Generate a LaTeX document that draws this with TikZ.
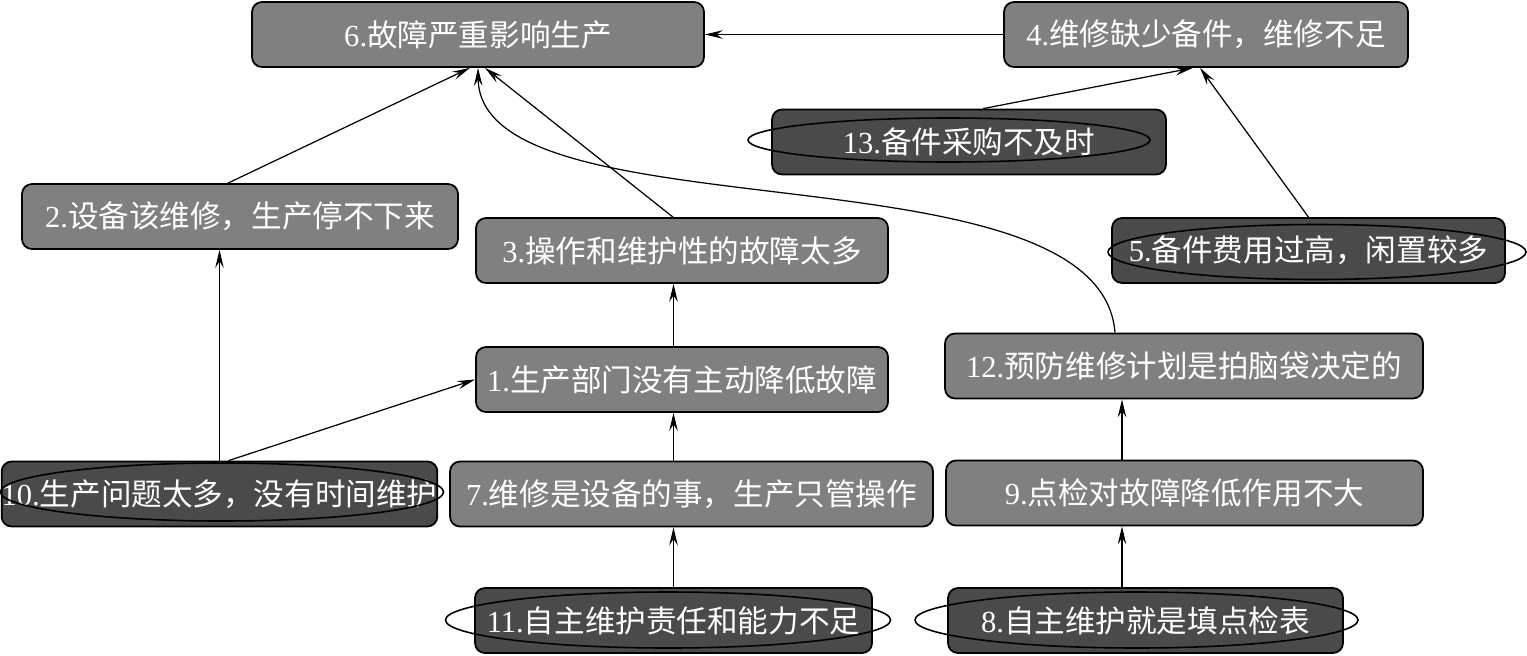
\documentclass[tikz,border=0pt]{standalone}
\usepackage{fontspec}
\setmainfont{Liberation Serif}
\newfontfamily\cjk{Noto Sans CJK SC}
\usetikzlibrary{arrows.meta}
\definecolor{boxgray}{RGB}{128,128,128}
\definecolor{deepgray}{RGB}{74,74,74}
\newcommand{\stepno}[1]{{\rmfamily #1.}}

\begin{document}
\begin{tikzpicture}[
    every node/.style={font=\cjk\fontsize{17.4}{20}\selectfont, text=white},
    lightNode/.style={rectangle, draw=black, fill=boxgray, line width=1pt, rounded corners=2mm, minimum height=1.3cm, inner sep=0pt},
    darkNode/.style={lightNode, fill=deepgray},
    ringLine/.style={draw=black, line width=0.9pt},
    flowEdge/.style={draw=black, line width=0.7pt, -{Stealth[length=3.6mm,width=1.7mm,inset=1.3mm]}}
]
    \useasboundingbox (0,0) rectangle (30.54,-13.10);

    \node [lightNode, minimum width=9.04cm] (n6) at (9.56,-0.69) {\stepno{6}故障严重影响生产};
    \node [lightNode, minimum width=8.08cm] (n4) at (24.12,-0.69) {\stepno{4}维修缺少备件，维修不足};
    \node [darkNode, minimum width=7.88cm] (n13) at (19.38,-2.84) {\stepno{13}备件采购不及时};
    \node [lightNode, minimum width=8.72cm] (n2) at (4.80,-4.33) {\stepno{2}设备该维修，生产停不下来};
    \node [lightNode, minimum width=8.24cm] (n3) at (13.64,-5.01) {\stepno{3}操作和维护性的故障太多};
    \node [darkNode, minimum width=7.86cm] (n5) at (26.17,-5.01) {\stepno{5}备件费用过高，闲置较多};
    \node [lightNode, minimum width=8.24cm] (n1) at (13.64,-7.59) {\stepno{1}生产部门没有主动降低故障};
    \node [lightNode, minimum width=9.56cm] (n12) at (23.68,-7.32) {\stepno{12}预防维修计划是拍脑袋决定的};
    \node [darkNode, minimum width=8.54cm] (n10) at (4.39,-9.88) {\stepno{10}生产问题太多，没有时间维护};
    \node [lightNode, minimum width=9.66cm] (n7) at (13.83,-9.88) {\stepno{7}维修是设备的事，生产只管操作};
    \node [lightNode, minimum width=9.54cm] (n9) at (23.69,-9.86) {\stepno{9}点检对故障降低作用不大};
    \node [darkNode, minimum width=7.94cm] (n11) at (13.47,-12.41) {\stepno{11}自主维护责任和能力不足};
    \node [darkNode, minimum width=7.90cm] (n8) at (22.91,-12.41) {\stepno{8}自主维护就是填点检表};

    \draw [ringLine] (4.44,-9.84) ellipse (4.43 and 0.58);
    \draw [ringLine] (13.36,-12.40) ellipse (4.45 and 0.56);
    \draw [ringLine] (18.98,-2.80) ellipse (4.02 and 0.44);
    \draw [ringLine] (26.34,-5.04) ellipse (4.18 and 0.55);
    \draw [ringLine] (22.73,-12.40) ellipse (4.43 and 0.56);

    \draw [flowEdge] (n4.west) -- (n6.east);
    \draw [flowEdge] ([xshift=2.8mm]n13.north) -- ([xshift=-2.6mm]n4.south);
    \draw [flowEdge] (n5.north) -- ([xshift=-1.2mm]n4.south);
    \draw [flowEdge] ([xshift=-2.4mm]n2.north) -- ([xshift=-1.6mm]n6.south);
    \draw [flowEdge] ([xshift=-1.8mm]n3.north) -- ([xshift=1.4mm]n6.south);
    \draw [flowEdge] ([xshift=-13.8mm]n12.north) .. controls (22.0,-2.8) and (9.6,-4.8) .. (n6.south);
    \draw [flowEdge] (n11.north) -- (n11.north |- n7.south);
    \draw [flowEdge] (n11.north |- n7.north) -- (n11.north |- n1.south);
    \draw [flowEdge] (n11.north |- n1.north) -- (n11.north |- n3.south);
    \draw [flowEdge] (n10.north) -- (n10.north |- n2.south);
    \draw [flowEdge] ([xshift=1.8mm]n10.north) -- (n1.west);
    \coordinate (c8) at ([xshift=-4.7mm]n8.north);
    \draw [flowEdge] (c8) -- (c8 |- n9.south);
    \draw [flowEdge] (c8 |- n9.north) -- (c8 |- n12.south);
\end{tikzpicture}
\end{document}
